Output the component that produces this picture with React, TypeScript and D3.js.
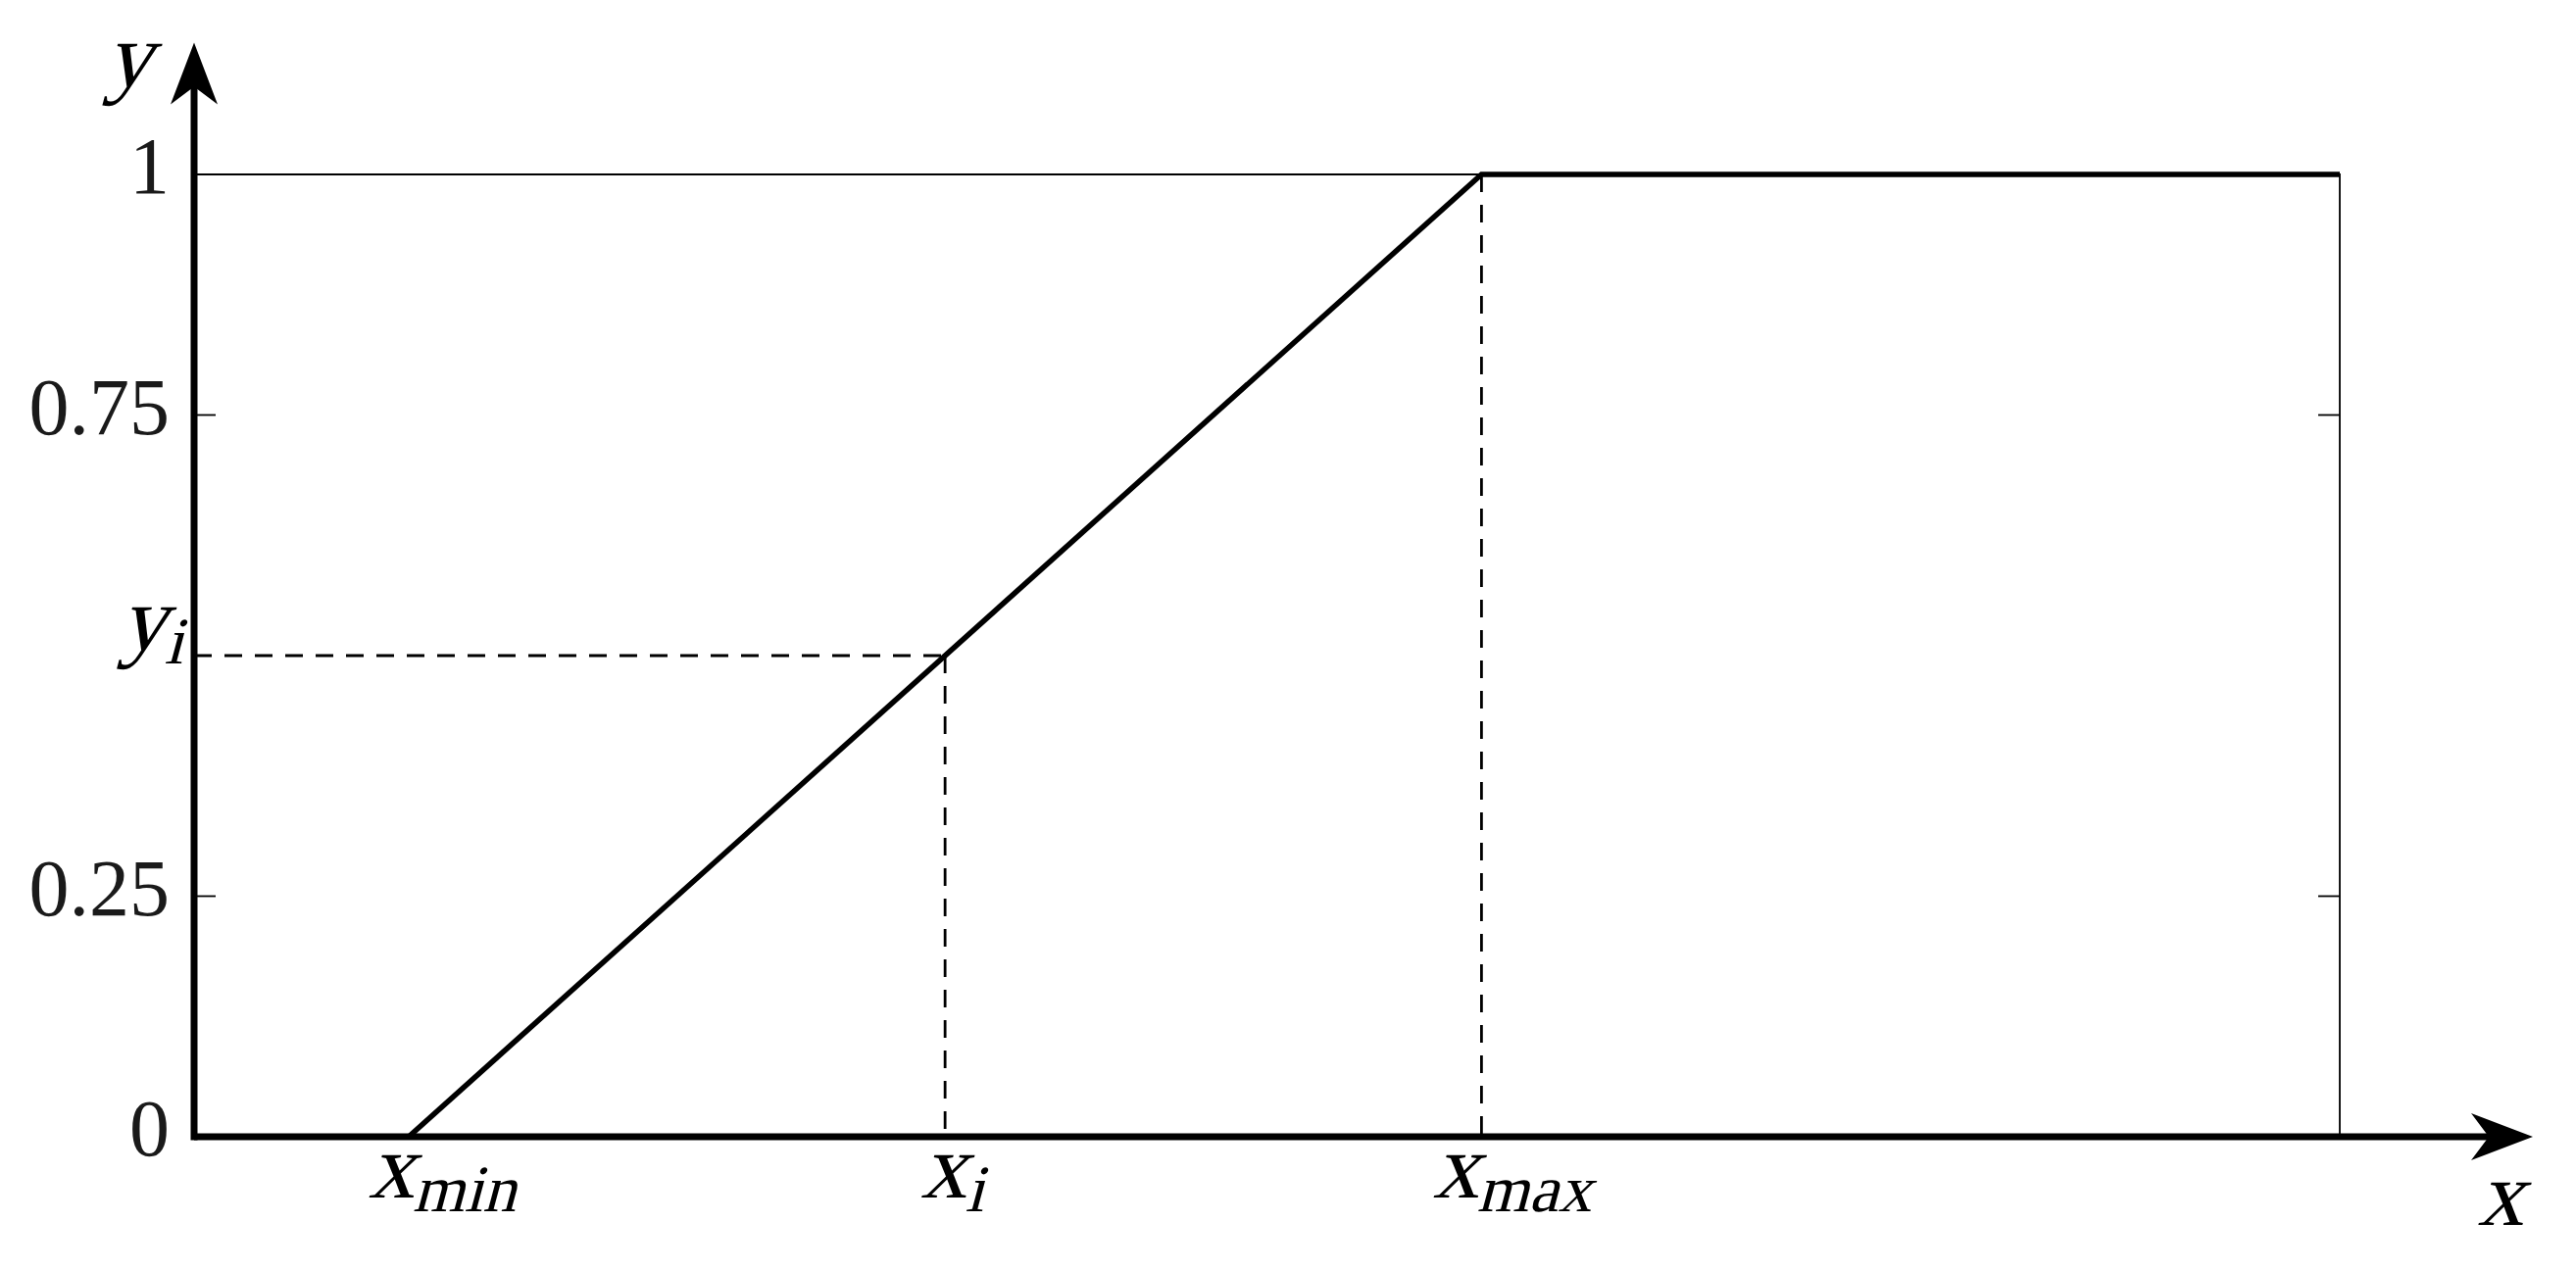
import * as d3 from "d3";
import { useEffect } from "react";

// piecewise-linear membership curve: 0 up to x_min, rising to 1 at x_max, flat after
const curveX = [0, 1, 6, 10];
const curveY = [0, 0, 1, 1];

// marked point on the rising part
const pointX = 3.5;
const pointY = 0.5;

const xMarks = [
    { value: 1, sub: "min", dx: 36 },
    { value: 3.5, sub: "i", dx: 9 },
    { value: 6, sub: "max", dx: 33 },
];
const yTickValues = [0.25, 0.75];
const yTickLabels = ["0", "0.25", "0.75", "1"];
const yTickLabelValues = [0, 0.25, 0.75, 1];

const W = 2628;
const H = 1297;
const serif = "'Liberation Serif', 'DejaVu Serif', serif";
const ink = "#000";

// fake math italic: upright serif slanted, since no serif italic face is installed
function MathText({ x, y, main, sub, anchor = "middle", size = 94 }) {
    return (
        <text
            transform={`translate(${x},${y}) skewX(-15)`}
            textAnchor={anchor}
            fontFamily={serif}
            fontSize={size}
            fill={ink}
        >
            {main}
            {sub && (
                <tspan fontSize={size * 0.72} dy={size * 0.15} dx={size * 0.02}>
                    {sub}
                </tspan>
            )}
        </text>
    );
}

export default function App() {
    useEffect(() => {
        document.body.style.margin = "0";
        document.body.style.background = "#fff";
    }, []);

    const x = d3.scaleLinear().domain([0, 10]).range([198, 2387]);
    const y = d3.scaleLinear().domain([0, 1]).range([1160, 178]);

    const line = d3
        .line<number>()
        .x((_, i) => x(curveX[i]))
        .y((_, i) => y(curveY[i]));

    const x0 = x(0);
    const y0 = y(0);
    const xEnd = x(10.9);
    const yEnd = y(1.137);

    // latex-style arrow heads
    const xArrow = `M${xEnd},${y0} L${xEnd - 63},${y0 - 24} L${xEnd - 45},${y0} L${xEnd - 63},${y0 + 24} Z`;
    const yArrow = `M${x0},${yEnd} L${x0 - 24},${yEnd + 63} L${x0},${yEnd + 45} L${x0 + 24},${yEnd + 63} Z`;

    return (
        <svg width={W} height={H} style={{ display: "block", background: "#fff" }}>
            {/* frame: top at y=1 and right side */}
            <path
                d={`M${x(0)},${y(1)} H${x(10)} V${y(0)}`}
                fill="none"
                stroke={ink}
                strokeWidth={1.8}
            />
            {yTickValues.map((v) => (
                <g key={v}>
                    <line x1={x0} x2={x0 + 22} y1={y(v)} y2={y(v)} stroke={ink} strokeWidth={1.8} />
                    <line x1={x(10) - 22} x2={x(10)} y1={y(v)} y2={y(v)} stroke={ink} strokeWidth={1.8} />
                </g>
            ))}

            {/* dashed guides */}
            <g stroke={ink} strokeWidth={2.8} strokeDasharray="18 13" fill="none">
                <line x1={x0} x2={x(pointX)} y1={y(pointY)} y2={y(pointY)} />
                <line x1={x(pointX)} x2={x(pointX)} y1={y(pointY)} y2={y0} />
                <line x1={x(curveX[2])} x2={x(curveX[2])} y1={y(1)} y2={y0} />
            </g>

            <path d={line(curveX) || ""} fill="none" stroke={ink} strokeWidth={5.5} strokeLinejoin="miter" />

            {/* axes */}
            <line x1={x0} x2={xEnd - 40} y1={y0} y2={y0} stroke={ink} strokeWidth={7} />
            <line x1={x0} x2={x0} y1={y0 + 3.5} y2={yEnd + 40} stroke={ink} strokeWidth={7} />
            <path d={xArrow} fill={ink} />
            <path d={yArrow} fill={ink} />

            {/* y tick labels */}
            {yTickLabels.map((t, i) => (
                <text
                    key={t}
                    x={173}
                    y={y(yTickLabelValues[i]) + 19}
                    textAnchor="end"
                    fontFamily={serif}
                    fontSize={82}
                    fill="#1a1a1a"
                >
                    {t}
                </text>
            ))}
            <MathText x={190} y={y(pointY) - 6} main="y" sub="i" anchor="end" />

            {/* x marks */}
            {xMarks.map((m) => (
                <MathText key={m.sub} x={x(m.value) + m.dx} y={y0 + 62} main="x" sub={m.sub} />
            ))}

            {/* axis names */}
            <MathText x={2551} y={1250} main="x" />
            <MathText x={131} y={88} main="y" />
        </svg>
    );
}
